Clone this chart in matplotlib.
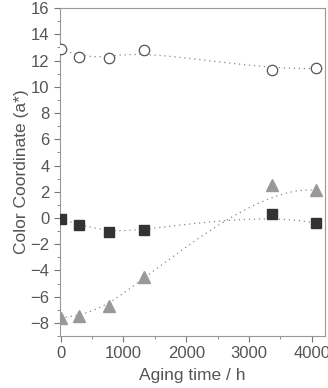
import numpy as np
import matplotlib
matplotlib.use("Agg")
import matplotlib.pyplot as plt
from matplotlib.ticker import MultipleLocator

plt.rcParams['font.family'] = ['Liberation Sans', 'DejaVu Sans']

# aging time (h) and color coordinate a*
hours = [0, 290, 770, 1320, 3360, 4060]
a_circle = [12.9, 12.3, 12.2, 12.8, 11.3, 11.4]
a_square = [-0.1, -0.5, -1.1, -0.9, 0.3, -0.4]
a_triangle = [-7.6, -7.5, -6.7, -4.5, 2.5, 2.1]


def bspline(px, py, k=3, n=300):
    # clamped B-spline using the data points as control points
    m = len(px)
    knots = np.concatenate([np.zeros(k), np.linspace(0, 1, m - k + 1), np.ones(k)])
    t = np.linspace(0, 1, n)
    t[-1] -= 1e-9

    def basis(i, d, t):
        if d == 0:
            return ((knots[i] <= t) & (t < knots[i + 1])).astype(float)
        out = np.zeros_like(t)
        if knots[i + d] > knots[i]:
            out += (t - knots[i]) / (knots[i + d] - knots[i]) * basis(i, d - 1, t)
        if knots[i + d + 1] > knots[i + 1]:
            out += (knots[i + d + 1] - t) / (knots[i + d + 1] - knots[i + 1]) * basis(i + 1, d - 1, t)
        return out

    B = np.array([basis(i, k, t) for i in range(m)])
    return B.T @ np.asarray(px, float), B.T @ np.asarray(py, float)


txt = '#555555'
fig = plt.figure(figsize=(3.28, 3.88), dpi=100)
ax = fig.add_axes([0.183, 0.134, 0.808, 0.845])

for ys, style in [(a_circle, dict(marker='o', mfc='white', mec='#555555', ms=7.5, mew=0.9)),
                  (a_square, dict(marker='s', mfc='#333333', mec='#333333', ms=6.5)),
                  (a_triangle, dict(marker='^', mfc='#999999', mec='#999999', ms=8))]:
    cx, cy = bspline(hours, ys)
    ax.plot(cx, cy, ls=(0, (1, 3)), color='#888888', lw=0.9, zorder=1)
    ax.plot(hours, ys, ls='none', zorder=3, **style)

ax.set_xlim(-10, 4210)
ax.set_ylim(-9, 16)
ax.xaxis.set_major_locator(MultipleLocator(1000))
ax.xaxis.set_minor_locator(MultipleLocator(500))
ax.yaxis.set_major_locator(MultipleLocator(2))
ax.yaxis.set_minor_locator(MultipleLocator(1))
ax.tick_params(which='both', direction='out', colors='#777777', labelcolor=txt, labelsize=12)
ax.tick_params(which='major', length=4)
ax.tick_params(which='minor', length=2.5)
for s in ax.spines.values():
    s.set_color('#999999')
ax.set_xlabel('Aging time / h', color=txt, fontsize=12.5, labelpad=5)
ax.set_ylabel('Color Coordinate (a*)', color=txt, fontsize=12.5, labelpad=1)

fig.savefig('out.png', dpi=100)
